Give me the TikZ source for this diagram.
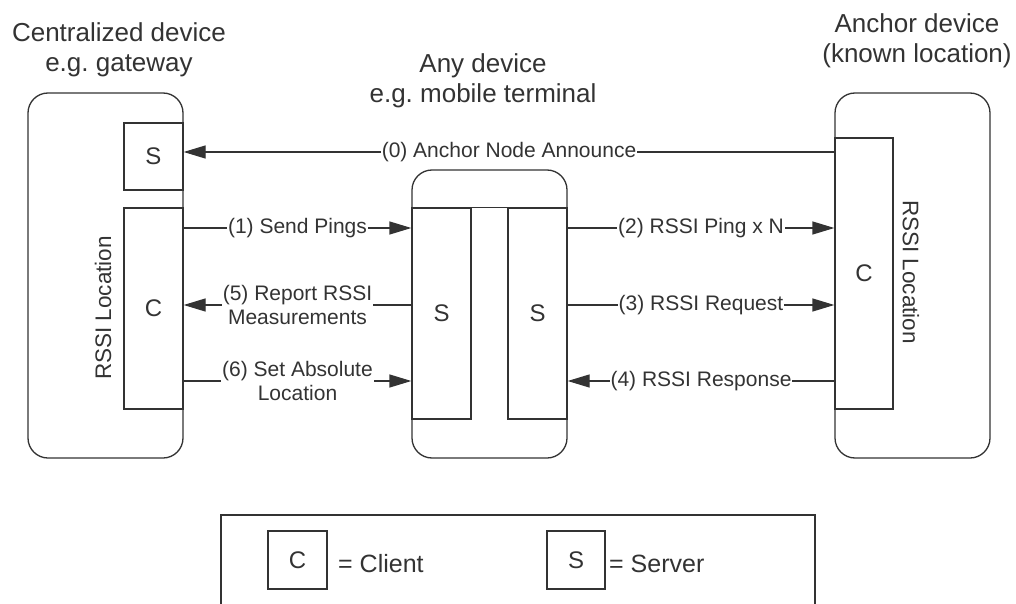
\documentclass[tikz,border=0pt]{standalone}
\usepackage{fontspec}
\setmainfont{Liberation Sans}
\usetikzlibrary{arrows.meta}
\definecolor{ink}{HTML}{333333}
\frenchspacing
\begin{document}
\begin{tikzpicture}[x=1pt,y=-1pt,
  dev/.style={draw=ink, rounded corners=20pt, line width=1.3pt, inner sep=0pt},
  box/.style={draw=ink, line width=1.3pt, inner sep=0pt, text=ink, font=\fontsize{24}{28}\selectfont},
  lbl/.style={fill=white, inner sep=1pt, text=ink, align=center, font=\fontsize{21}{24}\selectfont},
  side/.style={text=ink, inner sep=0pt, font=\fontsize{22.5}{26}\selectfont},
  ttl/.style={text=ink, align=center, inner sep=0pt, font=\fontsize{26}{30}\selectfont},
  legtxt/.style={text=ink, inner sep=0pt, anchor=base west, font=\fontsize{25}{28}\selectfont},
  arr/.style={draw=ink, line width=1.3pt, -{Triangle[length=22pt,width=13pt]}}]
\useasboundingbox (0,0) rectangle (1016,604);
\clip (0,0) rectangle (1016,604);
\fill[white] (0,0) rectangle (1016,604);

% titles
\node[ttl] (t1) at (119,50) {Centralized device\\e.g. gateway};
\node[ttl] (t2) at (483,81) {Any device\\e.g. mobile terminal};
\node[ttl] (t3) at (917,41) {Anchor device\\(known location)};

% devices
\node[dev, minimum width=155pt, minimum height=365pt] (gw) at (105.5,275.5) {};
\node[dev, minimum width=155pt, minimum height=288pt] (mt) at (489.5,314) {};
\node[dev, minimum width=155pt, minimum height=365pt] (an) at (912.5,275.5) {};

% inner boxes
\node[box, minimum width=59pt, minimum height=67pt] (gwS) at (153.5,156.5) {S};
\node[box, minimum width=59pt, minimum height=201pt] (gwC) at (153.5,308.5) {C};
\node[box, minimum width=59pt, minimum height=211pt] (mtL) at (441.5,313.5) {S};
\node[box, minimum width=59pt, minimum height=211pt] (mtR) at (537.5,313.5) {S};
\node[box, minimum width=58pt, minimum height=271pt] (anC) at (864,273.5) {C};
\draw[draw=ink, line width=1.3pt] (mtL.north west) -- (mtR.north east);

\node[side, rotate=90] (gwlab) at (103,308) {RSSI Location};
\node[side, rotate=-90] (anlab) at (911,272) {RSSI Location};

% rows
\coordinate (r0) at (0,152);
\coordinate (r1) at (0,228);
\coordinate (r2) at (0,305);
\coordinate (r3) at (0,381);

\draw[arr] (anC.west |- r0) -- node[lbl] {(0) Anchor Node Announce} (gwS.east |- r0);
\draw[arr] (gwC.east |- r1) -- node[lbl] {(1) Send Pings} (mtL.west |- r1);
\draw[arr] (mtR.east |- r1) -- node[lbl] {(2) RSSI Ping x N} (anC.west |- r1);
\draw[arr] (mtL.west |- r2) -- node[lbl] {(5) Report RSSI\\Measurements} (gwC.east |- r2);
\draw[arr] (mtR.east |- r2) -- node[lbl] {(3) RSSI Request} (anC.west |- r2);
\draw[arr] (gwC.east |- r3) -- node[lbl] {(6) Set Absolute\\Location} (mtL.west |- r3);
\draw[arr] (anC.west |- r3) -- node[lbl] {(4) RSSI Response} (mtR.east |- r3);

% legend
\node[draw=ink, line width=1.3pt, inner sep=0pt, minimum width=594pt, minimum height=130pt] (leg) at (518,580) {};
\node[box, minimum width=59pt, minimum height=58pt] (legC) at (297.5,560) {C};
\node[legtxt] (legCt) at (338,572) {= Client};
\node[box, minimum width=58pt, minimum height=58pt] (legS) at (576,560) {S};
\node[legtxt] (legSt) at (609,572) {= Server};
\end{tikzpicture}
\end{document}
